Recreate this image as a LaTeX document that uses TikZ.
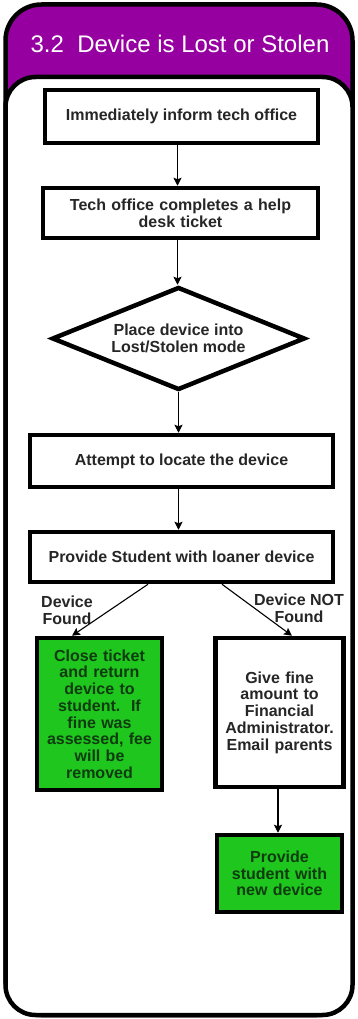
\documentclass[tikz,border=0pt]{standalone}
\usepackage{fontspec}
\setmainfont{Liberation Sans}
\usetikzlibrary{shapes.geometric}
\usetikzlibrary{arrows.meta}
\definecolor{framepurple}{RGB}{150,0,160}
\definecolor{okgreen}{RGB}{30,198,30}
\definecolor{okgreentext}{RGB}{15,60,15}

\begin{document}
\begin{tikzpicture}[x=1pt,y=-1pt,
  stepbox/.style={draw,line width=4.5pt,fill=white,inner sep=2pt,align=center,
    font=\fontsize{16}{16.7}\selectfont\bfseries,text=black!85},
  greenbox/.style={stepbox,fill=okgreen,text=okgreentext},
  decide/.style={stepbox,diamond,aspect=2.46,inner sep=0pt},
  flow/.style={line width=1.1pt,-{Stealth[length=8pt,width=8pt,inset=1.5pt]}},
  branch/.style={align=center,font=\fontsize{16}{16.7}\selectfont\bfseries,text=black!85}]
\useasboundingbox (0,0) rectangle (357,1019);
\draw[line width=4.5pt,fill=framepurple,rounded corners=36pt] (5.5,4.5) rectangle (352.5,1015);
\draw[line width=4.5pt,fill=white,rounded corners=30pt] (5.5,77) rectangle (352.5,1015);
\node[font=\fontsize{24}{26}\selectfont,text=white] (title) at (180,44) {3.2\ \ Device is Lost or Stolen};

\node[stepbox,minimum width=273pt,minimum height=53pt] (inform) at (181.5,116.5) {Immediately inform tech office};
\node[stepbox,minimum width=275pt,minimum height=50pt,text width=260pt] (ticket) at (180.5,213) {Tech office completes a help\\desk ticket};
\node[decide,minimum width=253pt,minimum height=103pt] (lostmode) at (178.5,338.5) {Place device into\\Lost/Stolen mode};
\node[stepbox,minimum width=303pt,minimum height=52pt] (locate) at (181.5,461) {Attempt to locate the device};
\node[stepbox,minimum width=303pt,minimum height=50pt] (loaner) at (181.5,557) {Provide Student with loaner device};
\node[greenbox,minimum width=125pt,minimum height=152pt,text width=118pt] (closeticket) at (99.5,714) {Close ticket\\and return\\device to\\student.\ \ If\\fine was\\assessed, fee\\will be\\removed};
\node[stepbox,minimum width=125pt,minimum height=149pt,text width=124pt] (givefine) at (279.5,712.5) {Give fine\\amount to\\Financial\\Administrator.\\Email parents};
\node[greenbox,minimum width=125pt,minimum height=77pt,text width=118pt] (newdevice) at (279.5,873.5) {Provide\\student with\\new device};

\node[branch] (found) at (67,610) {Device\\Found};
\node[branch] (notfound) at (299,608) {Device NOT\\Found};

\draw[flow] ([xshift=-4pt]inform.south) -- ([xshift=-3pt]ticket.north);
\draw[flow] ([xshift=-3pt]ticket.south) -- ([xshift=-1pt]lostmode.north);
\draw[flow] (lostmode.south) -- ([xshift=-3pt]locate.north);
\draw[flow] ([xshift=-3pt]locate.south) -- ([xshift=-3pt]loaner.north);
\draw[flow] ([xshift=-33.5pt]loaner.south) -- ([xshift=-27.5pt]closeticket.north);
\draw[flow] ([xshift=40.5pt]loaner.south) -- ([xshift=12.5pt]givefine.north);
\draw[flow] ([xshift=-1.5pt]givefine.south) -- ([xshift=-1.5pt]newdevice.north);
\end{tikzpicture}
\end{document}
